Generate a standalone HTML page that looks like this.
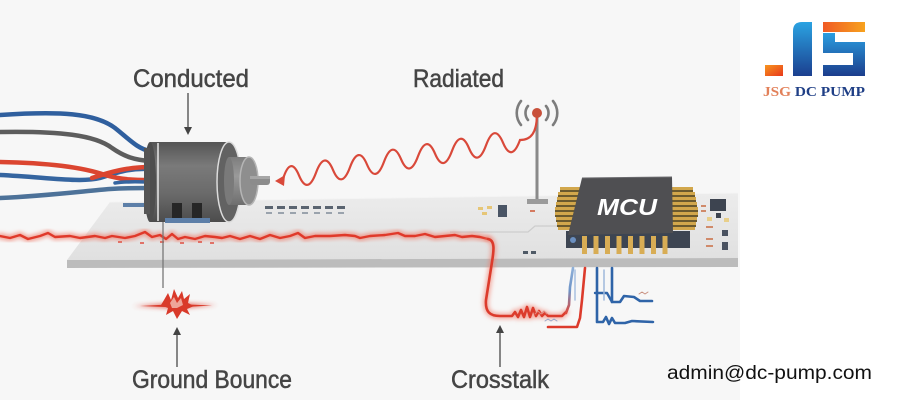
<!DOCTYPE html>
<html>
<head>
<meta charset="utf-8">
<style>
html,body{margin:0;padding:0;background:#fff;}
svg{display:block;}
</style>
</head>
<body>
<svg width="900" height="400" viewBox="0 0 900 400" xmlns="http://www.w3.org/2000/svg">
<defs>
  <linearGradient id="motorBody" x1="0" y1="0" x2="0" y2="1">
    <stop offset="0" stop-color="#555"/>
    <stop offset="0.3" stop-color="#7a7a7a"/>
    <stop offset="0.65" stop-color="#6a6a6a"/>
    <stop offset="1" stop-color="#4c4c4c"/>
  </linearGradient>
  <linearGradient id="boss" x1="0" y1="0" x2="0" y2="1">
    <stop offset="0" stop-color="#7d7d7d"/>
    <stop offset="0.4" stop-color="#9a9a9a"/>
    <stop offset="1" stop-color="#6e6e6e"/>
  </linearGradient>
  <linearGradient id="boardTop" x1="0" y1="0" x2="0" y2="1">
    <stop offset="0" stop-color="#ececec"/>
    <stop offset="1" stop-color="#e0e0e0"/>
  </linearGradient>
  <linearGradient id="jblue" x1="0" y1="0" x2="0" y2="1">
    <stop offset="0" stop-color="#2ba3e2"/>
    <stop offset="1" stop-color="#1b3f8f"/>
  </linearGradient>
  <linearGradient id="sblue" x1="0" y1="0" x2="0" y2="1">
    <stop offset="0" stop-color="#2b9ee0"/>
    <stop offset="1" stop-color="#1c3d8c"/>
  </linearGradient>
  <linearGradient id="orangeH" x1="0" y1="0" x2="1" y2="0">
    <stop offset="0" stop-color="#f05a24"/>
    <stop offset="1" stop-color="#f7a21e"/>
  </linearGradient>
  <linearGradient id="orangeB" x1="0" y1="0" x2="1" y2="1">
    <stop offset="0" stop-color="#f7951e"/>
    <stop offset="1" stop-color="#e8381c"/>
  </linearGradient>
  <linearGradient id="mixLine" x1="0" y1="0" x2="0" y2="1">
    <stop offset="0" stop-color="#8fb0d8"/>
    <stop offset="0.5" stop-color="#6d93c7"/>
    <stop offset="1" stop-color="#e0483a"/>
  </linearGradient>
  <filter id="glow" x="-10%" y="-50%" width="120%" height="200%">
    <feGaussianBlur stdDeviation="2"/>
  </filter>
</defs>

<!-- background -->
<rect x="0" y="0" width="900" height="400" fill="#ffffff"/>
<rect x="0" y="0" width="740" height="400" fill="#f7f7f7"/>

<!-- PCB board -->
<polygon points="110,202 738,193 738,258 67,260" fill="url(#boardTop)"/>
<polygon points="67,260 738,258 738,267 67,268" fill="#bcbcbc"/>
<line x1="110" y1="202" x2="738" y2="193" stroke="#f4f4f4" stroke-width="1"/>
<!-- faint board trace line -->
<path d="M450,232 L528,232 L535,226 L568,226" fill="none" stroke="#cdcdcd" stroke-width="1.2"/>

<!-- small board components -->
<g fill="#5a6470">
  <rect x="265" y="206" width="8" height="3"/>
  <rect x="277" y="206" width="8" height="3"/>
  <rect x="289" y="206" width="8" height="3"/>
  <rect x="301" y="206" width="8" height="3"/>
  <rect x="313" y="206" width="8" height="3"/>
  <rect x="325" y="206" width="8" height="3"/>
  <rect x="337" y="206" width="8" height="3"/>
</g>
<g fill="#9aa3ad">
  <rect x="266" y="212" width="6" height="2"/>
  <rect x="278" y="212" width="6" height="2"/>
  <rect x="290" y="212" width="6" height="2"/>
  <rect x="302" y="212" width="6" height="2"/>
  <rect x="314" y="212" width="6" height="2"/>
  <rect x="326" y="212" width="6" height="2"/>
  <rect x="338" y="212" width="6" height="2"/>
</g>
<g fill="#e6c677">
  <rect x="478" y="207" width="5" height="3"/>
  <rect x="487" y="206" width="5" height="3"/>
  <rect x="482" y="212" width="5" height="3"/>
</g>
<rect x="498" y="205" width="9" height="12" fill="#4a5565"/>
<rect x="530" y="210" width="5" height="2" fill="#d47a60"/>
<rect x="523" y="251" width="5" height="3" fill="#4f5a66"/>
<rect x="531" y="251" width="5" height="3" fill="#4f5a66"/>
<!-- right components -->
<rect x="710" y="199" width="16" height="12" fill="#3d4450"/>
<rect x="716" y="213" width="5" height="5" fill="#3d4450"/>
<rect x="722" y="230" width="6" height="6" fill="#4a5260"/>
<rect x="722" y="242" width="6" height="8" fill="#4a5260"/>
<g fill="#d08a6a">
  <rect x="706" y="226" width="7" height="2"/>
  <rect x="706" y="238" width="7" height="2"/>
  <rect x="706" y="245" width="7" height="2"/>
  <rect x="701" y="205" width="5" height="2"/>
  <rect x="701" y="210" width="5" height="2"/>
</g>
<g fill="#e8cf8a">
  <rect x="707" y="217" width="5" height="4"/>
  <rect x="724" y="218" width="5" height="4"/>
</g>

<!-- antenna -->
<line x1="537" y1="115" x2="537" y2="202" stroke="#8a8a8a" stroke-width="3"/>
<rect x="527" y="199" width="21" height="5" fill="#9a9a9a"/>
<g fill="none" stroke="#7d7d7d" stroke-width="2.6" stroke-linecap="round">
  <path d="M528,106 A11,11 0 0 0 528,120"/>
  <path d="M521,101 A19,19 0 0 0 521,125"/>
  <path d="M546,106 A11,11 0 0 1 546,120"/>
  <path d="M553,101 A19,19 0 0 1 553,125"/>
</g>

<!-- radiated wave -->
<path d="M537,113 C537,133 531,140 520,140 Q511.5,163 503,142.7 T486,145.4 T469,148.2 T452,150.9 T435,153.6 T418,156.3 T401,159.1 T384,161.8 T367,164.5 T350,167.2 T333,169.9 T316,172.7 T299,175.4 T283,179" fill="none" stroke="#d9493a" stroke-width="2.2" stroke-linecap="round"/>
<polygon points="275,181 285,175 284,186" fill="#d9493a"/>
<circle cx="537" cy="113" r="5" fill="#c8503a"/>

<!-- wires -->
<g fill="none" stroke-width="4.5" stroke-linecap="round">
  <path d="M0,115 C60,111 95,113 115,128 C130,140 138,149 150,151" stroke="#2f5f9e"/>
  <path d="M0,132 C60,131 95,135 112,148 C125,157 135,160 150,161" stroke="#5d5d5d"/>
  <path d="M0,175 C45,177 80,183 100,178 C118,172 130,168 150,169" stroke="#3565a0"/>
  <path d="M0,162 C55,163 85,168 105,175 C122,180 136,180 150,180" stroke="#db4530"/>
  <path d="M92,178 C110,172 128,167 150,167" stroke="#db4530"/>
  <path d="M0,198 C45,196 85,191 110,189 C128,188 138,188 150,188" stroke="#4d7299"/>
  <path d="M115,183 C128,181 138,182 150,182" stroke="#3565a0" stroke-width="3.5"/>
</g>
<rect x="123" y="203" width="26" height="4" fill="#5d7fa8"/>

<!-- motor -->
<rect x="150" y="142" width="80" height="80" fill="url(#motorBody)"/>
<ellipse cx="150" cy="182" rx="6" ry="40" fill="#4e4e4e"/>
<rect x="144" y="148" width="6" height="66" fill="#555"/>
<line x1="158" y1="143" x2="158" y2="221" stroke="#e8e8e8" stroke-width="1.5"/>
<ellipse cx="229" cy="182" rx="12" ry="40" fill="#626262" stroke="#dcdcdc" stroke-width="1.5"/>
<rect x="229" y="157" width="20" height="48" fill="url(#boss)"/>
<ellipse cx="249" cy="181" rx="9" ry="24" fill="#8e8e8e" stroke="#b5b5b5" stroke-width="1.5"/>
<ellipse cx="229" cy="181" rx="5" ry="24" fill="#7a7a7a"/>
<rect x="250" y="176" width="20" height="9" rx="3" fill="#8c8c8c"/>
<rect x="250" y="176" width="20" height="3" fill="#a6a6a6"/>
<rect x="172" y="203" width="10" height="15" fill="#262626"/>
<rect x="192" y="203" width="10" height="15" fill="#262626"/>
<rect x="165" y="218" width="45" height="5" fill="#5d7fa8"/>

<!-- red noisy board trace -->
<g fill="none" stroke-linejoin="round" stroke-linecap="round">
  <polyline filter="url(#glow)" stroke="#f07a6a" stroke-opacity="0.7" stroke-width="6"
    points="0,236 10,238 20,235 28,239 40,236 48,233 55,237 70,236 80,238 95,236 105,238 112,236 125,238 135,236 145,232 152,237 160,235 166,239 172,234 178,239 185,237 195,239 205,236 215,237 222,238 230,236 240,239 250,236 260,239 270,235 280,238 290,236 298,233 305,238 315,236 330,236 345,235 355,236 360,238 370,236 385,235 398,233 405,236 415,236 425,234 435,237 445,236 455,235 462,237 472,236 480,237 488,239"/>
  <polyline stroke="#e0392a" stroke-width="2.4"
    points="0,236 10,238 20,235 28,239 40,236 48,233 55,237 70,236 80,238 95,236 105,238 112,236 125,238 135,236 145,232 152,237 160,235 166,239 172,234 178,239 185,237 195,239 205,236 215,237 222,238 230,236 240,239 250,236 260,239 270,235 280,238 290,236 298,233 305,238 315,236 330,236 345,235 355,236 360,238 370,236 385,235 398,233 405,236 415,236 425,234 435,237 445,236 455,235 462,237 472,236 480,237 488,239"/>
</g>
<g fill="#e0574a" opacity="0.8">
  <rect x="118" y="241" width="4" height="2"/>
  <rect x="140" y="242" width="4" height="2"/>
  <rect x="160" y="241" width="4" height="2"/>
  <rect x="180" y="242" width="4" height="2"/>
  <rect x="198" y="241" width="4" height="2"/>
  <rect x="210" y="242" width="4" height="2"/>
</g>

<!-- crosstalk traces -->
<g fill="none" stroke-linejoin="round" stroke-linecap="round">
  <path filter="url(#glow)" d="M488,239 C495,240 494,250 492,262 L486,300 C485,312 490,316 500,316 L512,316 L515,312 L518,317 L521,310 L524,317 L527,307 L530,317 L533,308 L536,316 L539,311 L542,316 L545,313 L548,316 L562,316 L566,312" stroke="#f07a6a" stroke-width="6" stroke-opacity="0.6"/>
  <path d="M488,239 C495,240 494,250 492,262 L486,300 C485,312 490,316 500,316 L512,316 L515,312 L518,317 L521,310 L524,317 L527,307 L530,317 L533,308 L536,316 L539,311 L542,316 L545,313 L548,316 L562,316 L566,312" stroke="#dc3b2c" stroke-width="2.6"/>
  <path d="M566,313 L569,305 L570,287 L573,268" stroke="url(#mixLine)" stroke-width="2.6"/>
  <path d="M548,327 L577,327 L580,318 L582,300 L585,268" stroke="#dc3b2c" stroke-width="2.6"/>
  <path d="M535,314 l3,-3 l3,3 l3,-3 l3,3" stroke="#e08a80" stroke-width="1"/>
  <path d="M545,321 l3,-2 l3,2 l3,-2 l3,2" stroke="#9aa8c8" stroke-width="1"/>
  <!-- blue lines -->
  <path d="M597,268 L597,322 L603,322 L606,317 L609,324 L612,318 L615,323 L625,323 L632,321 L653,322" stroke="#2f64a8" stroke-width="2.6"/>
  <path d="M595,293 L607,293 L612,302" stroke="#2f64a8" stroke-width="2.4"/>
  <path d="M612,268 L612,302 L620,302 L624,296 L634,297 L640,301 L652,301" stroke="#2f64a8" stroke-width="2.6"/>
  <path d="M604,270 L604,300" stroke="#9fb9dc" stroke-width="1.5"/>
  <path d="M575,270 L575,300" stroke="#a8c0e0" stroke-width="1.5"/>
  <path d="M639,294 l3,-2 l3,2 l3,-2" stroke="#c89080" stroke-width="1"/>
</g>

<!-- MCU -->
<rect x="566" y="231" width="124" height="17" fill="#3d4552"/>
<circle cx="573" cy="240" r="3" fill="#6a8fc0"/>
<g fill="#d2a74c">
  <rect x="560" y="187" width="24" height="3"/>
  <rect x="558" y="192" width="26" height="3"/>
  <rect x="557" y="197" width="27" height="3"/>
  <rect x="556" y="202" width="28" height="3"/>
  <rect x="555" y="207" width="29" height="3"/>
  <rect x="555" y="212" width="29" height="3"/>
  <rect x="556" y="217" width="28" height="3"/>
  <rect x="557" y="222" width="27" height="3"/>
  <rect x="558" y="227" width="26" height="3"/>
  <rect x="671" y="187" width="22" height="3"/>
  <rect x="671" y="192" width="24" height="3"/>
  <rect x="671" y="197" width="25" height="3"/>
  <rect x="671" y="202" width="26" height="3"/>
  <rect x="671" y="207" width="27" height="3"/>
  <rect x="671" y="212" width="27" height="3"/>
  <rect x="671" y="217" width="26" height="3"/>
  <rect x="671" y="222" width="25" height="3"/>
  <rect x="671" y="227" width="24" height="3"/>
</g>
<g fill="#6b5a2e">
  <rect x="560" y="190" width="24" height="2"/>
  <rect x="558" y="195" width="26" height="2"/>
  <rect x="557" y="200" width="27" height="2"/>
  <rect x="556" y="205" width="28" height="2"/>
  <rect x="555" y="210" width="29" height="2"/>
  <rect x="555" y="215" width="29" height="2"/>
  <rect x="556" y="220" width="28" height="2"/>
  <rect x="557" y="225" width="27" height="2"/>
  <rect x="671" y="190" width="22" height="2"/>
  <rect x="671" y="195" width="24" height="2"/>
  <rect x="671" y="200" width="25" height="2"/>
  <rect x="671" y="205" width="26" height="2"/>
  <rect x="671" y="210" width="27" height="2"/>
  <rect x="671" y="215" width="27" height="2"/>
  <rect x="671" y="220" width="26" height="2"/>
  <rect x="671" y="225" width="25" height="2"/>
</g>
<polygon points="582,178 672,177 673,233 568,235" fill="#4f4f52"/>
<line x1="582" y1="178" x2="672" y2="177" stroke="#6a6a6e" stroke-width="1"/>
<g fill="#d8ad55">
  <rect x="582" y="236" width="5" height="18"/>
  <rect x="593.5" y="236" width="5" height="18"/>
  <rect x="605" y="236" width="5" height="18"/>
  <rect x="616.5" y="236" width="5" height="18"/>
  <rect x="628" y="236" width="5" height="18"/>
  <rect x="639.5" y="236" width="5" height="18"/>
  <rect x="651" y="236" width="5" height="18"/>
  <rect x="662.5" y="236" width="5" height="18"/>
</g>
<text x="627" y="215" font-family="Liberation Sans, sans-serif" font-size="23" font-weight="bold" font-style="italic" fill="#ffffff" text-anchor="middle" textLength="60" lengthAdjust="spacingAndGlyphs">MCU</text>

<!-- ground bounce -->
<line x1="163" y1="222" x2="163" y2="288" stroke="#777" stroke-width="1.3"/>
<polygon points="133,306 177,302.5 217,305 177,309" fill="#e0483a" opacity="0.75" filter="url(#glow)"/>
<polygon points="140,306 177,304 212,305.5 177,307.5" fill="#d93a2a"/>
<polygon points="164,300 168,293 171,300 174,289 178,298 182,291 184,299 190,294 188,303 194,306 187,309 190,315 182,311 177,319 173,311 166,315 168,308 161,305" fill="#d93a2a"/>
<polygon points="170,303 174,297 177,303 181,298 183,305 177,308 172,308" fill="#f3c0b5" opacity="0.8"/>

<!-- arrows -->
<g stroke="#555" stroke-width="1.4">
  <line x1="188" y1="93" x2="188" y2="128"/>
  <line x1="177" y1="334" x2="177" y2="367"/>
  <line x1="500" y1="332" x2="500" y2="367"/>
</g>
<g fill="#444">
  <polygon points="184,127 192,127 188,135"/>
  <polygon points="173,335 181,335 177,327"/>
  <polygon points="496,333 504,333 500,325"/>
</g>

<!-- labels -->
<g font-family="Liberation Sans, sans-serif" fill="#454545" stroke="#454545" stroke-width="0.5">
  <text x="133" y="87" font-size="25" textLength="116" lengthAdjust="spacingAndGlyphs">Conducted</text>
  <text x="413" y="87" font-size="25" textLength="91" lengthAdjust="spacingAndGlyphs">Radiated</text>
  <text x="132" y="388" font-size="25" textLength="160" lengthAdjust="spacingAndGlyphs">Ground Bounce</text>
  <text x="451" y="388" font-size="25" textLength="98" lengthAdjust="spacingAndGlyphs">Crosstalk</text>
</g>
<text x="667" y="379" font-family="Liberation Sans, sans-serif" font-size="19" fill="#111" textLength="205" lengthAdjust="spacingAndGlyphs">admin@dc-pump.com</text>

<!-- logo -->
<rect x="765" y="65" width="18" height="11" fill="url(#orangeB)"/>
<path d="M802,22 L812,22 L812,76 L793,76 L793,31 Q793,22 802,22 Z" fill="url(#jblue)"/>
<rect x="823" y="22" width="42" height="10" fill="url(#orangeH)"/>
<path d="M823,33 L835,33 L835,42 L865,42 L865,76 L823,76 L823,65 L853,65 L853,53 L823,53 Z" fill="url(#sblue)"/>
<text x="763" y="96" font-family="Liberation Serif, serif" font-size="13.5" font-weight="bold" textLength="102" lengthAdjust="spacingAndGlyphs"><tspan fill="#e2815a">JSG</tspan><tspan fill="#1f3f86"> DC PUMP</tspan></text>
</svg>
</body>
</html>
